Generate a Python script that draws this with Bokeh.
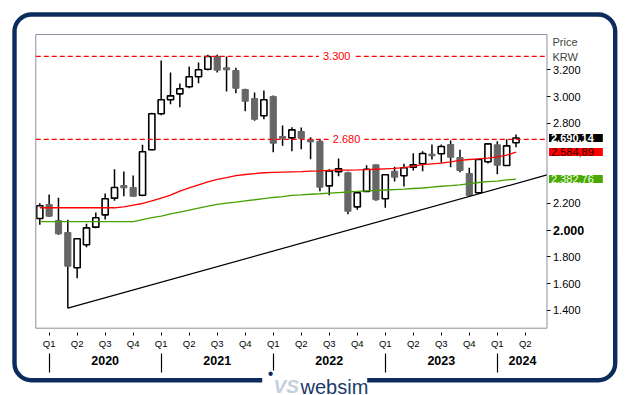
from bokeh.plotting import figure
from bokeh.models import (LinearAxis, FixedTicker, Range1d, Label, BoxAnnotation,
                          ColumnDataSource)
from bokeh.embed import file_html
from bokeh.resources import INLINE

# ---------------- data (monthly candles, Dec 2019 .. Mar 2024) ----------------
month_idx = list(range(52))
opens = [2088, 2192, 2073, 1983, 1719, 1891, 2023, 2115, 2240, 2334, 2320, 2262, 2602,
         2871, 2976, 3020, 3073, 3148, 3204, 3300, 3215, 3195, 3053, 2985, 2856,
         3000, 2701, 2691, 2738, 2676, 2666, 2332, 2437, 2430, 2175, 2290, 2489,
         2235, 2441, 2407, 2471, 2497, 2569, 2572, 2641, 2544, 2424, 2280, 2512,
         2639, 2484, 2654]
highs = [2202, 2267, 2243, 2078, 1940, 2048, 2133, 2275, 2456, 2439, 2409, 2639, 2878,
         3270, 3180, 3097, 3225, 3255, 3312, 3312, 3300, 3215, 3058, 3030, 3045,
         3008, 2783, 2771, 2769, 2696, 2676, 2456, 2536, 2437, 2284, 2486, 2492,
         2420, 2475, 2497, 2576, 2591, 2641, 2641, 2671, 2602, 2467, 2535, 2650,
         2666, 2681, 2716]
lows = [2041, 2100, 1966, 1417, 1641, 1873, 2015, 2080, 2220, 2254, 2250, 2254, 2598,
        2860, 2943, 2920, 3062, 3100, 3195, 3180, 3038, 3025, 2890, 2818, 2830,
        2584, 2631, 2591, 2606, 2531, 2292, 2262, 2404, 2120, 2153, 2287, 2220,
        2168, 2364, 2327, 2447, 2441, 2529, 2504, 2471, 2434, 2252, 2275, 2500,
        2419, 2480, 2621]
closes = [2183, 2105, 1973, 1731, 1936, 2018, 2093, 2235, 2320, 2317, 2254, 2587, 2871,
          2976, 3005, 3058, 3148, 3200, 3299, 3197, 3200, 3062, 2965, 2830, 2976,
          2651, 2688, 2751, 2688, 2661, 2322, 2444, 2459, 2142, 2280, 2456, 2228,
          2415, 2397, 2467, 2489, 2574, 2557, 2626, 2546, 2447, 2260, 2529, 2646,
          2486, 2631, 2690.14]
ma_red = [2168, 2168, 2168, 2168, 2168, 2168, 2168, 2168, 2168, 2174, 2187, 2200, 2219,
          2241, 2262, 2293, 2317, 2340, 2361, 2381, 2394, 2408, 2417, 2424, 2430,
          2433, 2435, 2437, 2439, 2442, 2444, 2447, 2449, 2450, 2451, 2453, 2456,
          2459, 2462, 2469, 2480, 2490, 2497, 2502, 2511, 2523, 2529, 2533, 2540,
          2549, 2561, 2584.89]
ma_green = [2065, 2065, 2065, 2065, 2065, 2065, 2065, 2065, 2065, 2065, 2065, 2080, 2094,
            2106, 2123, 2136, 2151, 2166, 2181, 2194, 2203, 2211, 2220, 2228, 2237,
            2245, 2252, 2260, 2264, 2269, 2273, 2278, 2282, 2286, 2290, 2295, 2298,
            2301, 2304, 2307, 2312, 2316, 2323, 2329, 2334, 2340, 2349, 2357, 2363,
            2368, 2376, 2382.76]
level_values = [3300, 2680]
level_labels = ["3.300", "2.680"]
level_label_pos = [31.8, 32.85]
trend_anchor_idx = [3, 46]
trend_anchor_val = [1417, 2252]

price_ticks = [1400, 1600, 1800, 2000, 2200, 2400, 2600, 2800, 3000, 3200]
price_tick_labels = ["1.400", "1.600", "1.800", "2.000", "2.200", "2.400", "2.600",
                     "2.800", "3.000", "3.200"]
bold_tick = 2000
hidden_ticks = [2400, 2600]          # covered by the last-value boxes
quarter_ticks = [1, 4, 7, 10, 13, 16, 19, 22, 25, 28, 31, 34, 37, 40, 43, 46, 49, 52]
quarter_labels = ["Q1", "Q2", "Q3", "Q4"] * 4 + ["Q1", "Q2"]
year_ticks = [7, 19, 31, 43, 51.7]
year_labels = ["2020", "2021", "2022", "2023", "2024"]
year_separators = [1, 13, 25, 37, 49]

last_values = [2690.14, 2584.89, 2382.76]
last_texts = ["2.690,14", "2.584,89", "2.382,76"]

# ---------------- layout constants ----------------
FONT = "Liberation Sans"
W, H = 629, 395
X_LO, X_HI = -4.209, 63.157          # data x spanning the whole canvas
Y_LO, Y_HI = 763.8, 3718.4           # data y spanning the whole canvas
BOX_X0, BOX_X1 = -0.428, 54.32       # inner chart box
BOX_Y0, BOX_Y1 = 1267.2, 3464.0
YEAR_AXIS_Y = 1077.9
NAVY = "#0b2c5c"

p = figure(width=W, height=H, min_border=0,
           x_range=Range1d(X_LO, X_HI), y_range=Range1d(Y_LO, Y_HI),
           x_axis_type=None, y_axis_type=None,
           output_backend="svg", toolbar_location=None)
p.outline_line_color = None
p.background_fill_color = "white"
p.border_fill_color = "white"

# outer rounded frame
p.add_layout(BoxAnnotation(left=14, right=614.7, top=14, bottom=379.7,
                           left_units="canvas", right_units="canvas",
                           top_units="canvas", bottom_units="canvas",
                           fill_color=None, line_color=NAVY, line_alpha=1.0,
                           line_width=4.4, border_radius=17))

# inner chart box
p.add_layout(BoxAnnotation(left=BOX_X0, right=BOX_X1, bottom=BOX_Y0, top=BOX_Y1,
                           fill_color=None, line_color="#8e8e9e", line_alpha=1.0,
                           line_width=1))

# candles
up = [i for i in month_idx if closes[i] >= opens[i]]
dn = [i for i in month_idx if closes[i] < opens[i]]
src = ColumnDataSource(dict(x=month_idx, o=opens, h=highs, l=lows, c=closes))
p.segment(x0="x", y0="h", x1="x", y1="l", source=src, line_color="black", line_width=1.5)
p.vbar(x=dn, bottom=[closes[i] for i in dn], top=[opens[i] for i in dn],
       width=0.66, fill_color="#666666", line_color="#666666", line_width=1)
p.vbar(x=up, bottom=[opens[i] for i in up], top=[closes[i] for i in up],
       width=0.66, fill_color="white", line_color="black", line_width=1.6)

# moving averages
p.line(month_idx, ma_red, line_color="#ff0000", line_width=1.3)
p.line(month_idx, ma_green, line_color="#46a000", line_width=1.3)

# trend line through two lows, extended to the right edge of the box
slope = (trend_anchor_val[1] - trend_anchor_val[0]) / (trend_anchor_idx[1] - trend_anchor_idx[0])
p.line([trend_anchor_idx[0], BOX_X1],
       [trend_anchor_val[0], trend_anchor_val[0] + slope * (BOX_X1 - trend_anchor_idx[0])],
       line_color="black", line_width=1.2)

# horizontal levels
for v, t, xp in zip(level_values, level_labels, level_label_pos):
    p.line([BOX_X0, BOX_X1], [v, v], line_color="#ff0000", line_width=1.3, line_dash="5 3")
    p.add_layout(Label(x=xp, y=v, text=t, text_align="center", text_baseline="middle",
                       text_font=FONT, text_font_size="11px", text_color="#ff0000",
                       background_fill_color="white", padding=4))

# price axis (right side of the box)
def price_label(t, l):
    return "" if (t == bold_tick or t in hidden_ticks) else l

yaxis = LinearAxis(fixed_location=BOX_X1,
                   ticker=FixedTicker(ticks=[t for t in price_ticks if t not in hidden_ticks]),
                   major_label_overrides={t: price_label(t, l)
                                          for t, l in zip(price_ticks, price_tick_labels)},
                   axis_line_color=None, major_tick_in=0, major_tick_out=4,
                   major_tick_line_color="black", minor_tick_line_color=None,
                   major_label_standoff=2, major_label_text_font=FONT,
                   major_label_text_font_size="11px", major_label_text_color="black")
p.add_layout(yaxis, "right")
yaxis_bold = LinearAxis(fixed_location=BOX_X1, ticker=FixedTicker(ticks=[bold_tick]),
                        major_label_overrides={bold_tick: price_tick_labels[price_ticks.index(bold_tick)]},
                        axis_line_color=None, major_tick_in=0, major_tick_out=4,
                        major_tick_line_color="black", minor_tick_line_color=None,
                        major_label_standoff=2, major_label_text_font=FONT,
                        major_label_text_font_size="12.5px", major_label_text_font_style="bold",
                        major_label_text_color="black")
p.add_layout(yaxis_bold, "right")

# quarter axis
qaxis = LinearAxis(fixed_location=BOX_Y0, ticker=FixedTicker(ticks=quarter_ticks),
                   major_label_overrides=dict(zip(quarter_ticks, quarter_labels)),
                   axis_line_color=None, major_tick_in=-4, major_tick_out=7,
                   major_tick_line_color="black", minor_tick_line_color=None,
                   major_label_standoff=3, major_label_text_font=FONT,
                   major_label_text_font_size="9.5px", major_label_text_color="black")
p.add_layout(qaxis, "below")

# year separators
sepaxis = LinearAxis(fixed_location=YEAR_AXIS_Y, ticker=FixedTicker(ticks=year_separators),
                     major_label_overrides={t: "" for t in year_separators},
                     axis_line_color=None, major_tick_in=0, major_tick_out=19,
                     major_tick_line_color="black", major_tick_line_width=1.2,
                     minor_tick_line_color=None, major_label_text_font_size="1px")
p.add_layout(sepaxis, "below")

# year labels
yraxis = LinearAxis(fixed_location=YEAR_AXIS_Y, ticker=FixedTicker(ticks=year_ticks),
                    major_label_overrides=dict(zip(year_ticks, year_labels)),
                    axis_line_color=None, major_tick_line_color=None,
                    major_tick_in=0, major_tick_out=0, minor_tick_line_color=None,
                    major_label_standoff=2, major_label_text_font=FONT,
                    major_label_text_font_size="12.5px", major_label_text_font_style="bold",
                    major_label_text_color="black")
p.add_layout(yraxis, "below")

# currency header
p.add_layout(Label(x=552, y=41.7, x_units="canvas", y_units="canvas", text="Price",
                   text_font=FONT, text_font_size="11px", text_baseline="middle"))
p.add_layout(Label(x=552, y=56.7, x_units="canvas", y_units="canvas", text="KRW",
                   text_font=FONT, text_font_size="11px", text_baseline="middle"))

# last value boxes
box_bg = ["#000000", "#ff0000", "#49a900"]
box_fg = ["#ffffff", "#3a0000", "#f0fff0"]
box_style = ["bold", "normal", "normal"]
for v, t, bg, fg, st in zip(last_values, last_texts, box_bg, box_fg, box_style):
    p.add_layout(Label(x=548.5, x_units="canvas", y=v, text=t, text_align="left",
                       text_baseline="middle", text_font=FONT, text_font_size="11px",
                       text_font_style=st, text_color=fg, background_fill_color=bg,
                       padding=dict(left=2, right=9, top=0, bottom=0), level="overlay"))

# logo in a gap of the bottom border
p.add_layout(BoxAnnotation(left=261.7, right=366.7, top=370, bottom=388,
                           left_units="canvas", right_units="canvas",
                           top_units="canvas", bottom_units="canvas",
                           fill_color="white", fill_alpha=1, line_color=None))
p.add_layout(Label(x=270, y=373.3, x_units="canvas", y_units="canvas", text="\u2022",
                   text_font=FONT, text_font_size="16px", text_color=NAVY,
                   text_align="center", text_baseline="middle"))
p.add_layout(Label(x=273, y=386, x_units="canvas", y_units="canvas", text="VS",
                   text_font=FONT, text_font_size="19px", text_font_style="bold italic",
                   text_color="#c5cfdd", text_baseline="alphabetic"))
p.add_layout(Label(x=300, y=386, x_units="canvas", y_units="canvas", text="websim",
                   text_font=FONT, text_font_size="20px", text_color="#1a3a6b",
                   text_baseline="alphabetic"))

open("out.html", "w").write(file_html(p, INLINE))
